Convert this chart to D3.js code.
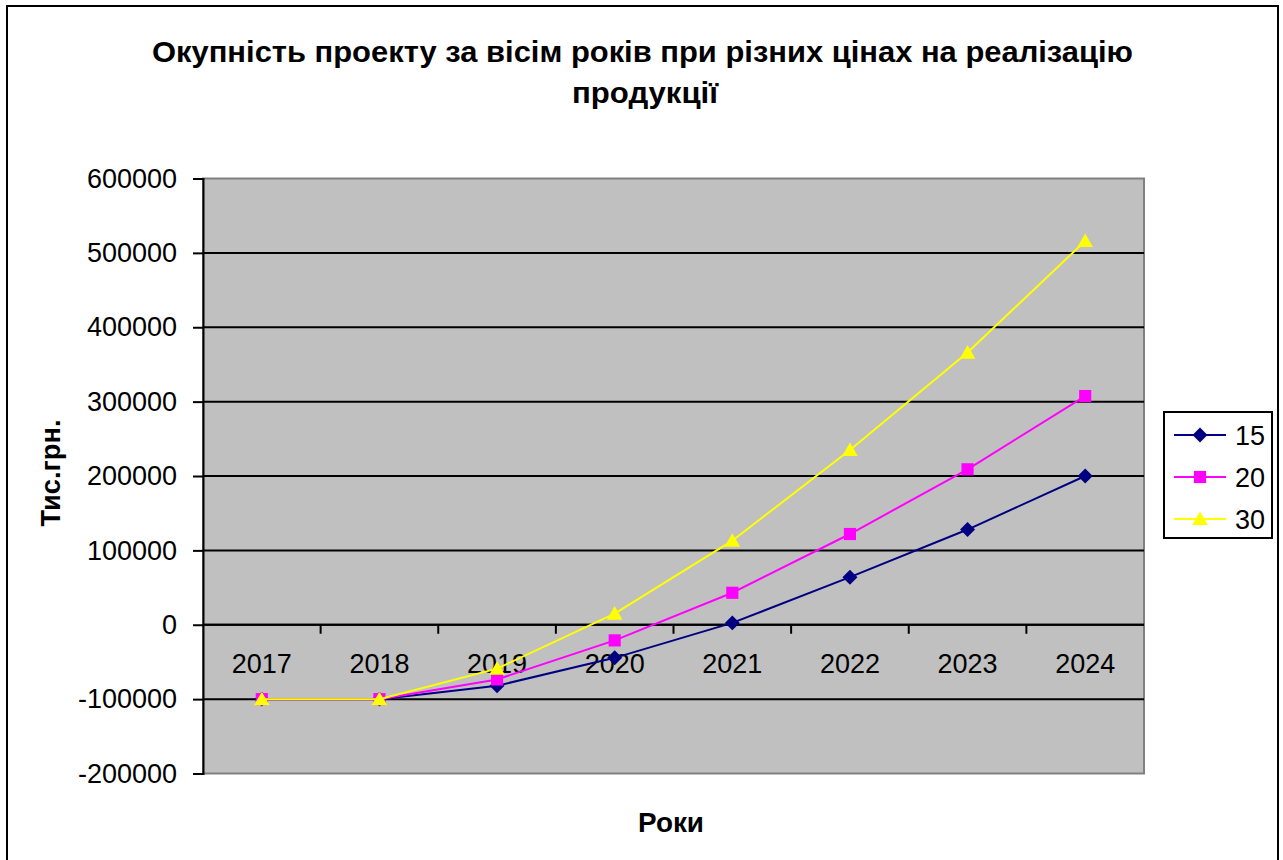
<!DOCTYPE html>
<html>
<head>
<meta charset="utf-8">
<script src="https://cdn.jsdelivr.net/npm/d3@7"></script>
<style>
  html, body { margin: 0; padding: 0; background: #fff; }
  svg { display: block; }
  text { font-family: "Liberation Sans", Arial, sans-serif; }
</style>
</head>
<body>
<svg id="chart" width="1283" height="860"></svg>
<script>
const years = ["2017", "2018", "2019", "2020", "2021", "2022", "2023", "2024"];
const seriesNames = ["15", "20", "30"];
const values15 = [-100000, -100000, -82000, -44500, 2500, 64000, 128000, 200000];
const values20 = [-100000, -100000, -73500, -21000, 43000, 122000, 209000, 307500];
const values30 = [-100000, -100000, -59000, 15000, 113000, 235000, 366000, 516000];
const yTicks = [-200000, -100000, 0, 100000, 200000, 300000, 400000, 500000, 600000];
const titleLines = ["Окупність проекту за вісім років при різних цінах на реалізацію", "продукції"];
const xTitle = "Роки";
const yTitle = "Тис.грн.";

const colors = ["#000080", "#FF00FF", "#FFFF00"];
const FONT = "'Liberation Sans', Arial, sans-serif";

// marker shapes: diamond (square rotated), square, triangle
const diamond = { draw(ctx, size) { const r = Math.sqrt(size / 2); ctx.moveTo(0, -r); ctx.lineTo(r, 0); ctx.lineTo(0, r); ctx.lineTo(-r, 0); ctx.closePath(); } };
const square = { draw(ctx, size) { const s = Math.sqrt(size) / 2; ctx.rect(-s, -s, 2 * s, 2 * s); } };
const triangle = { draw(ctx, size) { const h = Math.sqrt(size) * 0.95; const w = h * 1.15; ctx.moveTo(0, -h * 0.55); ctx.lineTo(w / 2, h * 0.45); ctx.lineTo(-w / 2, h * 0.45); ctx.closePath(); } };
const symbols = [diamond, square, triangle];
const symSizes = [112, 148, 205];
const allValues = [values15, values20, values30];

const svg = d3.select("#chart");
const plot = { left: 203, right: 1144, top: 178.5, bottom: 773.5 };

// outer border
svg.append("rect").attr("x", 7).attr("y", 6).attr("width", 1271).attr("height", 870)
  .attr("fill", "#fff").attr("stroke", "#000").attr("stroke-width", 2);

const x = d3.scaleBand().domain(years).range([plot.left, plot.right]).padding(0);
const y = d3.scaleLinear().domain([-200000, 600000]).range([plot.bottom, plot.top]);

// plot background
svg.append("rect").attr("x", plot.left).attr("y", plot.top)
  .attr("width", plot.right - plot.left).attr("height", plot.bottom - plot.top)
  .attr("fill", "#C0C0C0").attr("stroke", "#808080").attr("stroke-width", 2);

// gridlines
svg.append("g").selectAll("line").data(yTicks.filter(t => t !== -200000 && t !== 600000)).join("line")
  .attr("x1", plot.left).attr("x2", plot.right)
  .attr("y1", d => y(d)).attr("y2", d => y(d))
  .attr("stroke", "#000").attr("stroke-width", 2);

// y axis
const yAxis = d3.axisLeft(y).tickValues(yTicks).tickSize(10).tickPadding(16).tickFormat(d => String(d));
const gy = svg.append("g").attr("transform", `translate(${plot.left},0)`).call(yAxis);
gy.attr("font-size", null).attr("font-family", null);
gy.select(".domain").attr("stroke", "#000").attr("stroke-width", 2);
gy.selectAll(".tick line").attr("stroke", "#000").attr("stroke-width", 2);
gy.selectAll(".tick text").attr("font-size", 27).attr("fill", "#000").style("font-family", FONT);

// x axis at y=0
const xAxis = d3.axisBottom(x).tickSize(0).tickPadding(29);
const gx = svg.append("g").attr("transform", `translate(0,${y(0)})`).call(xAxis);
gx.attr("font-size", null).attr("font-family", null);
gx.select(".domain").remove();
gx.selectAll(".tick text").attr("font-size", 27).attr("fill", "#000").style("font-family", FONT);
// x ticks at category boundaries
const bounds = years.slice(1).map(yr => x(yr));
svg.append("g").selectAll("line").data(bounds).join("line")
  .attr("x1", d => d).attr("x2", d => d)
  .attr("y1", y(0)).attr("y2", y(0) + 9)
  .attr("stroke", "#000").attr("stroke-width", 2);
// zero line
svg.append("line").attr("x1", plot.left).attr("x2", plot.right)
  .attr("y1", y(0)).attr("y2", y(0)).attr("stroke", "#000").attr("stroke-width", 2);

const cx = yr => x(yr) + x.bandwidth() / 2;
const line = d3.line().x((d, i) => cx(years[i])).y(d => y(d));

allValues.forEach((vals, si) => {
  svg.append("path").datum(vals).attr("d", line)
    .attr("fill", "none").attr("stroke", colors[si]).attr("stroke-width", 2);
  svg.append("g").selectAll("path").data(vals).join("path")
    .attr("transform", (d, i) => `translate(${cx(years[i])},${y(d)})`)
    .attr("d", d3.symbol().type(symbols[si]).size(symSizes[si]))
    .attr("fill", colors[si]);
});

// title
const titleWidths = [981, 146];
const titleX = [642.5, 645];
svg.append("g").selectAll("text").data(titleLines).join("text")
  .attr("x", (d, i) => titleX[i]).attr("y", (d, i) => 62 + i * 41)
  .attr("text-anchor", "middle").attr("font-size", 30).attr("font-weight", "bold")
  .attr("textLength", (d, i) => titleWidths[i]).attr("lengthAdjust", "spacingAndGlyphs")
  .attr("fill", "#000").text(d => d);

// axis titles
svg.append("text").attr("x", 671).attr("y", 832).attr("text-anchor", "middle")
  .attr("font-size", 28).attr("font-weight", "bold")
  .attr("textLength", 66).attr("lengthAdjust", "spacingAndGlyphs").text(xTitle);
svg.append("text").attr("transform", "translate(60,473) rotate(-90)").attr("text-anchor", "middle")
  .attr("font-size", 28).attr("font-weight", "bold")
  .attr("textLength", 107).attr("lengthAdjust", "spacingAndGlyphs").text(yTitle);

// legend
const lg = svg.append("g");
lg.append("rect").attr("x", 1164).attr("y", 412).attr("width", 108).attr("height", 126)
  .attr("fill", "#fff").attr("stroke", "#000").attr("stroke-width", 2);
const ly = d3.scalePoint().domain(seriesNames).range([435, 519]);
seriesNames.forEach((n, si) => {
  lg.append("line").attr("x1", 1174).attr("x2", 1226).attr("y1", ly(n)).attr("y2", ly(n))
    .attr("stroke", colors[si]).attr("stroke-width", 2);
  lg.append("path").attr("transform", `translate(1200,${ly(n)})`)
    .attr("d", d3.symbol().type(symbols[si]).size(symSizes[si]))
    .attr("fill", colors[si]);
  lg.append("text").attr("x", 1235).attr("y", ly(n) + 9.5).attr("font-size", 27).text(n);
});
</script>
</body>
</html>
